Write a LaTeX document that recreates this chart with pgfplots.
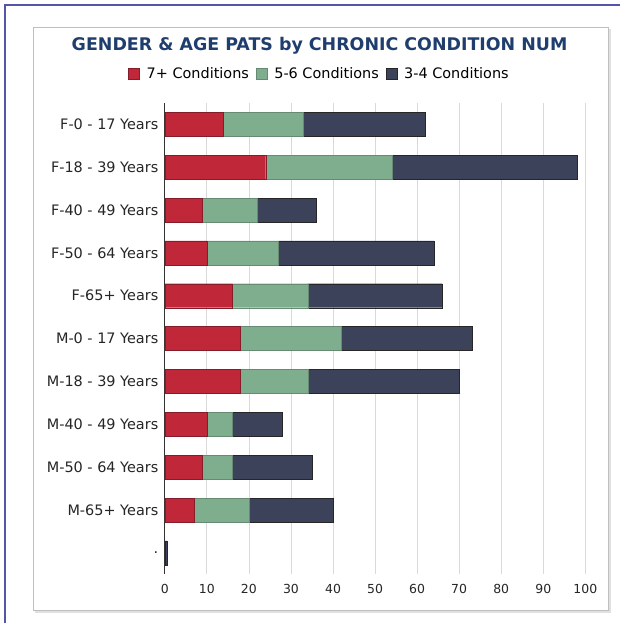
\documentclass[border=0pt]{standalone}
\usepackage{pgfplots}
\pgfplotsset{compat=1.18}
\usepackage{fontspec}
\setmainfont{DejaVu Sans}
\definecolor{cred}{HTML}{C0283A}
\definecolor{cgreen}{HTML}{7FAE8E}
\definecolor{cdark}{HTML}{3B4259}
\definecolor{ctitle}{HTML}{1F3E6E}
\definecolor{cframe}{HTML}{5555A8}
\begin{document}
\begin{tikzpicture}[x=1bp,y=1bp]
\path[fill=white] (0,0) rectangle (621,624);
\draw[cframe,line width=1.5bp] (5,0) -- (5,619) -- (621,619);
\draw[black!12,line width=2bp] (35,11) -- (611,11) -- (611,595);
\draw[black!25,line width=0.8bp,fill=white] (33,13) rectangle (609,597);
\begin{axis}[
  at={(165bp,49bp)}, anchor=south west,
  scale only axis, width=421bp, height=472bp,
  xbar stacked, bar width=24bp,
  xmin=0, xmax=100, ymin=-0.5, ymax=10.5, y dir=reverse,
  xtick={0,10,...,100}, ytick={0,...,10},
  yticklabels={F-0 - 17 Years,F-18 - 39 Years,F-40 - 49 Years,F-50 - 64 Years,F-65+ Years,M-0 - 17 Years,M-18 - 39 Years,M-40 - 49 Years,M-50 - 64 Years,M-65+ Years,.},
  /pgf/number format/assume math mode=true,
  yticklabel style={font=\fontsize{14.5}{16}\selectfont, text=black!85},
  xticklabel style={font=\fontsize{12.5}{14}\selectfont, text=black!85},
  major tick length=0pt,
  y tick label style={xshift=-3bp},
  x tick label style={yshift=-6bp},
  axis x line*=bottom, axis y line*=left,
  x axis line style={draw=none},
  y axis line style={draw=black!80, line width=1bp},
  xmajorgrids, grid style={black!15, line width=0.8bp},
  title={\bfseries GENDER \& AGE PATS by CHRONIC CONDITION NUM},
  title style={at={(0.368,1.099)}, anchor=base, font=\fontsize{17.5}{19}\selectfont, text=ctitle},
  legend columns=3,
  legend style={at={(0.368,1.062)}, anchor=center, draw=none, fill=none,
    font=\fontsize{14.5}{16}\selectfont, column sep=5bp},
  legend image code/.code={\draw[#1] (0bp,-5.5bp) rectangle (11bp,5.5bp);},
]
\addplot[fill=cred, draw=cred!70!black] coordinates {
(14,0) (24,1) (9,2) (10,3) (16,4) (18,5) (18,6) (10,7) (9,8) (7,9) (0,10)};
\addplot[fill=cgreen, draw=cgreen!80!black] coordinates {
(19,0) (30,1) (13,2) (17,3) (18,4) (24,5) (16,6) (6,7) (7,8) (13,9) (0,10)};
\addplot[fill=cdark, draw=black!85] coordinates {
(29,0) (44,1) (14,2) (37,3) (32,4) (31,5) (36,6) (12,7) (19,8) (20,9) (0.5,10)};
\legend{7+ Conditions,5-6 Conditions,3-4 Conditions}
\end{axis}
\end{tikzpicture}
\end{document}
